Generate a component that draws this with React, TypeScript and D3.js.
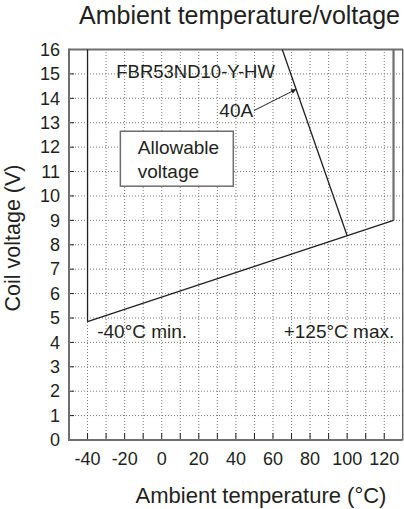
import React from "react";
import * as d3 from "d3";

// chart data
const xTicks = [-40, -20, 0, 20, 40, 60, 80, 100, 120];
const xGrid = [-40, -30, -20, -10, 0, 10, 20, 30, 40, 50, 60, 70, 80, 90, 100, 110, 120];
const yTicks = [0, 1, 2, 3, 4, 5, 6, 7, 8, 9, 10, 11, 12, 13, 14, 15, 16];

// allowable voltage boundary: [temp, volt]
const minTempLine = [[-40, 16], [-40, 4.85]];
const lowerLine = [[-40, 4.85], [125, 9.0]];
const maxTempLine = [[125, 9.0], [125, 16]];
const line40A = [[65, 16], [100, 8.37]];

const arrowFrom = [49.8, 13.5];
const arrowTo = [72.5, 14.37];

// label box corners [temp, volt]
const boxFrom = [-22.3, 12.65];
const boxTo = [38.6, 10.4];

const W = 404;
const H = 509;
const INK = "#231f20";
const FRAME = "#6e6e6e";
const FONT = "'Liberation Sans', Arial, Helvetica, sans-serif";

export default function App() {
  const x = d3.scaleLinear([-50, 130], [69, 402.8]);
  const y = d3.scaleLinear([0, 16], [440, 49.5]);
  const line = d3.line<number[]>().x(d => x(d[0])).y(d => y(d[1]));

  return (
    <svg width={W} height={H} style={{ position: "absolute", left: 0, top: 0, background: "#fff" }}
      fontFamily={FONT} fill={INK}>
      <defs>
        <marker id="arr" viewBox="0 0 10 10" refX="10" refY="5" markerWidth="9" markerHeight="5"
          orient="auto" markerUnits="userSpaceOnUse">
          <path d="M0,0 L10,5 L0,10 z" fill={INK} />
        </marker>
      </defs>

      {/* grid */}
      <g stroke="#777" strokeWidth={1} strokeDasharray="1 2">
        {xGrid.map(t => (
          <line key={"gx" + t} x1={x(t)} x2={x(t)} y1={y(0)} y2={y(16)} />
        ))}
        {yTicks.filter(v => v > 0 && v < 16).map(v => (
          <line key={"gy" + v} x1={x(-50)} x2={x(130)} y1={y(v)} y2={y(v)} />
        ))}
      </g>

      {/* ticks */}
      <g stroke={INK} strokeWidth={1}>
        {xGrid.map(t => (
          <line key={"tx" + t} x1={x(t)} x2={x(t)} y1={y(0)} y2={y(0) - 7} />
        ))}
        {yTicks.filter(v => v > 0 && v < 16).map(v => (
          <line key={"ty" + v} x1={x(-50)} x2={x(-50) + 5} y1={y(v)} y2={y(v)} />
        ))}
      </g>

      {/* frame */}
      <line x1={x(-50)} x2={x(130)} y1={y(16)} y2={y(16)} stroke={FRAME} strokeWidth={2} />
      <line x1={x(130)} x2={x(130)} y1={y(16)} y2={y(0)} stroke={INK} strokeWidth={1} />
      <line x1={x(-50)} x2={x(-50)} y1={y(16) - 1} y2={y(0) + 1} stroke={FRAME} strokeWidth={2} />
      <line x1={x(-50)} x2={x(130)} y1={y(0)} y2={y(0)} stroke={FRAME} strokeWidth={2} />

      {/* boundary lines */}
      <path d={line(maxTempLine) ?? ""} stroke={FRAME} strokeWidth={2.2} fill="none" />
      <path d={line(minTempLine) ?? ""} stroke={INK} strokeWidth={1.3} fill="none" />
      <path d={line(lowerLine) ?? ""} stroke={INK} strokeWidth={1.3} fill="none" />
      <path d={line(line40A) ?? ""} stroke={INK} strokeWidth={1.3} fill="none" />
      <line x1={x(arrowFrom[0])} y1={y(arrowFrom[1])} x2={x(arrowTo[0])} y2={y(arrowTo[1])}
        stroke={INK} strokeWidth={1} markerEnd="url(#arr)" />

      {/* allowable voltage box */}
      <rect x={x(boxFrom[0])} y={y(boxFrom[1])} width={x(boxTo[0]) - x(boxFrom[0])}
        height={y(boxTo[1]) - y(boxFrom[1])}
        fill="#fff" stroke={FRAME} strokeWidth={1.5} />
      <text x={x(-12.9)} y={y(11.7)} fontSize={19}>Allowable</text>
      <text x={x(-12.9)} y={y(10.75)} fontSize={19}>voltage</text>

      {/* annotations */}
      <text x={x(-24.5)} y={y(14.83)} fontSize={18.5}>FBR53ND10-Y-HW</text>
      <text x={x(49.3)} y={y(13.22)} fontSize={19} textAnchor="end">40A</text>
      <text x={x(-34.8)} y={y(4.18)} fontSize={19}>-40°C min.</text>
      <text x={x(125.4)} y={y(4.18)} fontSize={19} textAnchor="end">+125°C max.</text>

      {/* tick labels */}
      {yTicks.map(v => (
        <text key={"ly" + v} x={60} y={y(v)} dy="0.35em" fontSize={18} textAnchor="end">{v}</text>
      ))}
      {xTicks.map(t => (
        <text key={"lx" + t} x={x(t)} y={465} fontSize={18} textAnchor="middle">{t}</text>
      ))}

      {/* titles */}
      <text x={239.5} y={24} fontSize={25} textAnchor="middle">Ambient temperature/voltage</text>
      <text x={261} y={503} fontSize={22} textAnchor="middle">Ambient temperature (°C)</text>
      <text transform={`translate(20,${238}) rotate(-90)`} fontSize={21.5} textAnchor="middle">Coil voltage (V)</text>
    </svg>
  );
}
